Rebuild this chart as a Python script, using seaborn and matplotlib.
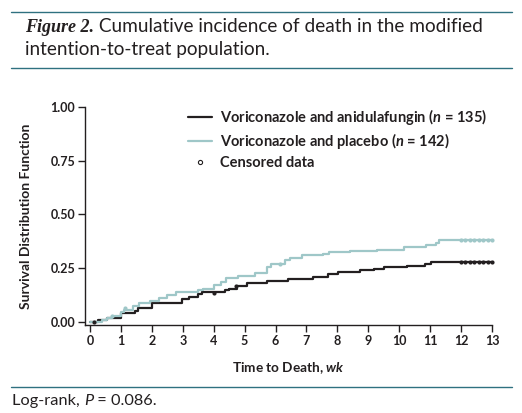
import numpy as np
import pandas as pd
import matplotlib
matplotlib.use("Agg")
import matplotlib.pyplot as plt
import seaborn as sns

sns.set_style("ticks")
plt.rcParams['font.family'] = ['Lato', 'DejaVu Sans']
plt.rcParams['mathtext.fontset'] = 'custom'
plt.rcParams['mathtext.rm'] = 'Lato:bold'
plt.rcParams['mathtext.it'] = 'Lato:bold:italic'
plt.rcParams['mathtext.bf'] = 'Lato:bold'


# 1. DATA

# voriconazole + anidulafungin: step times (wk) and cumulative incidence
anid_time = [0, 0.26, 0.54, 1.02, 1.46, 1.56, 2.0, 2.97, 3.2, 3.5, 3.62, 4.37, 4.5,
             4.75, 5.07, 5.72, 6.4, 7.2, 7.7, 8.03, 8.74, 9.18, 9.5, 10.25, 10.84,
             11.02, 13.0]
anid_cum = [0, 0.009, 0.017, 0.040, 0.052, 0.066, 0.089, 0.106, 0.117, 0.13, 0.14,
            0.148, 0.155, 0.167, 0.18, 0.19, 0.202, 0.21, 0.221, 0.231, 0.241, 0.248,
            0.256, 0.26, 0.268, 0.28, 0.28]

# voriconazole + placebo
plac_time = [0, 0.4, 0.55, 0.7, 1.0, 1.1, 1.4, 1.6, 1.95, 2.23, 2.5, 2.77, 3.5, 3.65,
             4.02, 4.25, 4.4, 4.78, 5.34, 5.72, 5.85, 6.3, 6.48, 6.85, 7.55, 7.73, 8.4,
             9.28, 10.14, 10.85, 11.2, 11.3, 13.0]
plac_cum = [0, 0.008, 0.018, 0.03, 0.046, 0.055, 0.074, 0.087, 0.099, 0.11, 0.125,
            0.139, 0.148, 0.155, 0.171, 0.187, 0.203, 0.214, 0.228, 0.256, 0.268, 0.287,
            0.298, 0.31, 0.318, 0.324, 0.33, 0.336, 0.349, 0.356, 0.367, 0.383, 0.383]

# censored observations
anid_cens_t = [0.14, 4.02, 4.71, 12.0, 12.14, 12.28, 12.43, 12.57, 12.71, 12.86, 13.0]
anid_cens_y = [0.0, 0.137, 0.167, 0.28, 0.28, 0.28, 0.28, 0.28, 0.28, 0.28, 0.28]
plac_cens_t = [0.7, 1.14, 6.15, 12.0, 12.14, 12.28, 12.43, 12.57, 12.71, 12.86, 13.0]
plac_cens_y = [0.03, 0.065, 0.27, 0.383, 0.383, 0.383, 0.383, 0.383, 0.383, 0.383, 0.383]

y_ticks = [0, 0.25, 0.5, 0.75, 1.0]
x_ticks = list(range(0, 14))

black = '#231f20'
teal = '#9fc7c8'
rule = '#2f7180'


# 2. FIGURE

W, H = 522, 413
fig = plt.figure(figsize=(W / 100, H / 100), dpi=100)
ax = fig.add_axes([85 / W, 1 - 325 / H, (492 - 85) / W, (325 - 107) / H])

sns.lineplot(x=anid_time, y=anid_cum, drawstyle='steps-post', color=black,
             lw=1.6, estimator=None, ax=ax,
             label='Voriconazole and anidulafungin ($n$ = 135)')
sns.lineplot(x=plac_time, y=plac_cum, drawstyle='steps-post', color=teal,
             lw=1.6, estimator=None, ax=ax,
             label='Voriconazole and placebo ($n$ = 142)')
sns.scatterplot(x=anid_cens_t, y=anid_cens_y, color=black, s=9, linewidth=0,
                ax=ax, clip_on=False, zorder=5)
sns.scatterplot(x=plac_cens_t, y=plac_cens_y, color=teal, s=9, linewidth=0,
                ax=ax, clip_on=False, zorder=5)
# legend entry for censored data
ax.plot([], [], 'o', ms=3, mfc='white', mec=black, mew=0.8, label='Censored data')

ax.set_xlim(-0.16, 13.0)
ax.set_ylim(-0.014, 1.0)
ax.set_xticks(x_ticks)
ax.set_yticks(y_ticks)
ax.set_yticklabels([f"{v:.2f}" for v in y_ticks])
sns.despine(ax=ax)
for s in ['left', 'bottom']:
    ax.spines[s].set_linewidth(1.0)
    ax.spines[s].set_color(black)
ax.tick_params(length=5, width=1.0, colors=black, labelsize=9, pad=2)
for lab in ax.get_xticklabels() + ax.get_yticklabels():
    lab.set_fontweight('bold')

ax.set_ylabel('Survival Distribution Function', fontsize=10, fontweight='bold',
              color=black, labelpad=13)
ax.set_xlabel('Time to Death, $wk$', fontsize=9.8, fontweight='bold', color=black,
              labelpad=10)

leg = ax.legend(loc='upper left', bbox_to_anchor=(0.22, 1.06), frameon=False,
                fontsize=10.5, handlelength=1.7, handletextpad=0.55, labelspacing=0.3)
for t in leg.get_texts():
    t.set_fontweight('bold')
    t.set_color(black)


# 3. CAPTION / RULES

def runs(x, y, parts):
    # draw text pieces one after another on a baseline (pixel coords)
    r = fig.canvas.get_renderer()
    for s, kw in parts:
        t = fig.text(x / W, 1 - y / H, s, va='baseline', ha='left', color=black, **kw)
        x += t.get_window_extent(r).width


for yy in [12, 68, 387]:
    fig.add_artist(plt.Line2D([11 / W, 512 / W], [1 - yy / H] * 2, color=rule, lw=1.0))

runs(25, 32, [('Figure 2.', dict(family='Liberation Serif', style='italic',
                                  weight='bold', fontsize=13)),
              (' Cumulative incidence of death in the modified', dict(fontsize=13.7))])
runs(25, 55, [('intention-to-treat population.', dict(fontsize=13.7))])
runs(12, 405, [('Log-rank, ', dict(fontsize=11.8)),
               ('P', dict(fontsize=11.8, style='italic')),
               (' = 0.086.', dict(fontsize=11.8))])

fig.savefig('out.png', dpi=100)
